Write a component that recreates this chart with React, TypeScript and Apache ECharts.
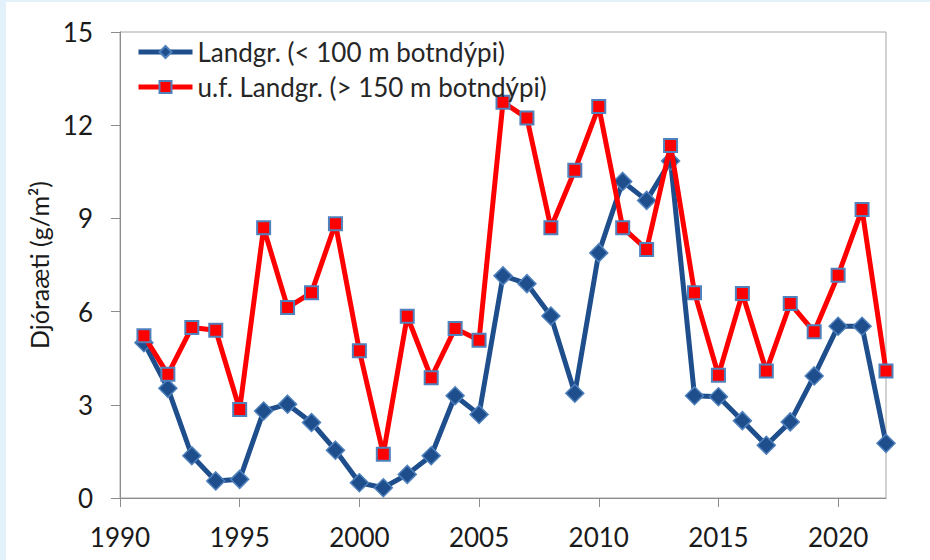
import React, { useEffect, useRef } from "react";
import * as echarts from "echarts";

const years = [1991, 1992, 1993, 1994, 1995, 1996, 1997, 1998, 1999, 2000, 2001, 2002, 2003, 2004, 2005, 2006, 2007, 2008, 2009, 2010, 2011, 2012, 2013, 2014, 2015, 2016, 2017, 2018, 2019, 2020, 2021, 2022];
const shallow = [5.0, 3.53, 1.36, 0.55, 0.6, 2.8, 3.02, 2.43, 1.54, 0.49, 0.33, 0.76, 1.36, 3.29, 2.69, 7.15, 6.9, 5.86, 3.37, 7.89, 10.19, 9.58, 10.85, 3.29, 3.26, 2.49, 1.7, 2.45, 3.93, 5.53, 5.53, 1.76];
const deep = [5.22, 3.98, 5.49, 5.4, 2.85, 8.7, 6.13, 6.61, 8.83, 4.74, 1.41, 5.85, 3.87, 5.46, 5.08, 12.74, 12.23, 8.7, 10.55, 12.6, 8.7, 8.0, 11.35, 6.61, 3.95, 6.58, 4.09, 6.26, 5.35, 7.17, 9.29, 4.09];
const xTicks = [1990, 1995, 2000, 2005, 2010, 2015, 2020];
const seriesNames = ["Landgr. (< 100 m botndýpi)", "u.f. Landgr. (> 150 m botndýpi)"];
const yAxisName = "Djóraæti (g/m²)";

const FONT = "Lato";
const BLUE = "#1f4e8c";
const RED = "#ff0000";
const EDGE = "#4f81bd";

export default function App() {
  const ref = useRef<HTMLDivElement>(null);
  useEffect(() => {
    if (!ref.current) return;
    const chart = echarts.init(ref.current, null, { renderer: "svg" });
    chart.setOption({
      animation: false,
      backgroundColor: "#ffffff",
      textStyle: { fontFamily: FONT },
      graphic: [
        { type: "rect", left: 0, top: 0, shape: { width: 6, height: 560 }, style: { fill: "#e3f1fb" }, silent: true },
        { type: "rect", left: 0, top: 0, shape: { width: 930, height: 2 }, style: { fill: "#e3f1fb" }, silent: true },
      ],
      grid: {
        left: 120,
        top: 32,
        right: 44,
        bottom: 62,
        show: true,
        borderColor: "#a6a6a6",
        borderWidth: 1,
        backgroundColor: "transparent",
      },
      legend: {
        orient: "vertical",
        left: 131,
        top: 34,
        itemWidth: 54,
        itemHeight: 15,
        itemGap: 9,
        textStyle: { fontFamily: FONT, fontSize: 26, color: "#262626" },
        data: [
          { name: seriesNames[0], lineStyle: { width: 5 } },
          { name: seriesNames[1], lineStyle: { width: 5 } },
        ],
      },
      xAxis: {
        type: "value",
        min: 1990,
        max: 2022,
        interval: 5,
        splitLine: { show: false },
        axisLine: { lineStyle: { color: "#8c8c8c", width: 1 } },
        axisTick: { show: true, length: 9, customValues: xTicks, lineStyle: { color: "#8c8c8c" } },
        axisLabel: {
          customValues: xTicks,
          formatter: (v: number) => String(v),
          fontFamily: FONT,
          fontSize: 26,
          color: "#1a1a1a",
          margin: 26,
        },
      },
      yAxis: {
        type: "value",
        min: 0,
        max: 15,
        interval: 3,
        name: yAxisName,
        nameLocation: "middle",
        nameGap: 62,
        nameTextStyle: { fontFamily: FONT, fontSize: 25, color: "#1a1a1a" },
        splitLine: { show: false },
        axisLine: { show: true, lineStyle: { color: "#8c8c8c", width: 1 } },
        axisTick: { show: true, length: 9, lineStyle: { color: "#8c8c8c" } },
        axisLabel: { fontFamily: FONT, fontSize: 26, color: "#1a1a1a", margin: 27 },
      },
      series: [
        {
          name: seriesNames[0],
          type: "line",
          data: years.map((y, i) => [y, shallow[i]]),
          symbol: "diamond",
          symbolSize: 18,
          lineStyle: { color: BLUE, width: 5 },
          itemStyle: { color: BLUE, borderColor: EDGE, borderWidth: 1.5 },
          z: 2,
        },
        {
          name: seriesNames[1],
          type: "line",
          data: years.map((y, i) => [y, deep[i]]),
          symbol: "rect",
          symbolSize: 13,
          lineStyle: { color: RED, width: 5 },
          itemStyle: { color: RED, borderColor: EDGE, borderWidth: 2 },
          z: 3,
        },
      ],
    });
    return () => chart.dispose();
  }, []);
  return (
    <div
      ref={ref}
      style={{ position: "fixed", left: 0, top: 0, width: 930, height: 560 }}
    />
  );
}
